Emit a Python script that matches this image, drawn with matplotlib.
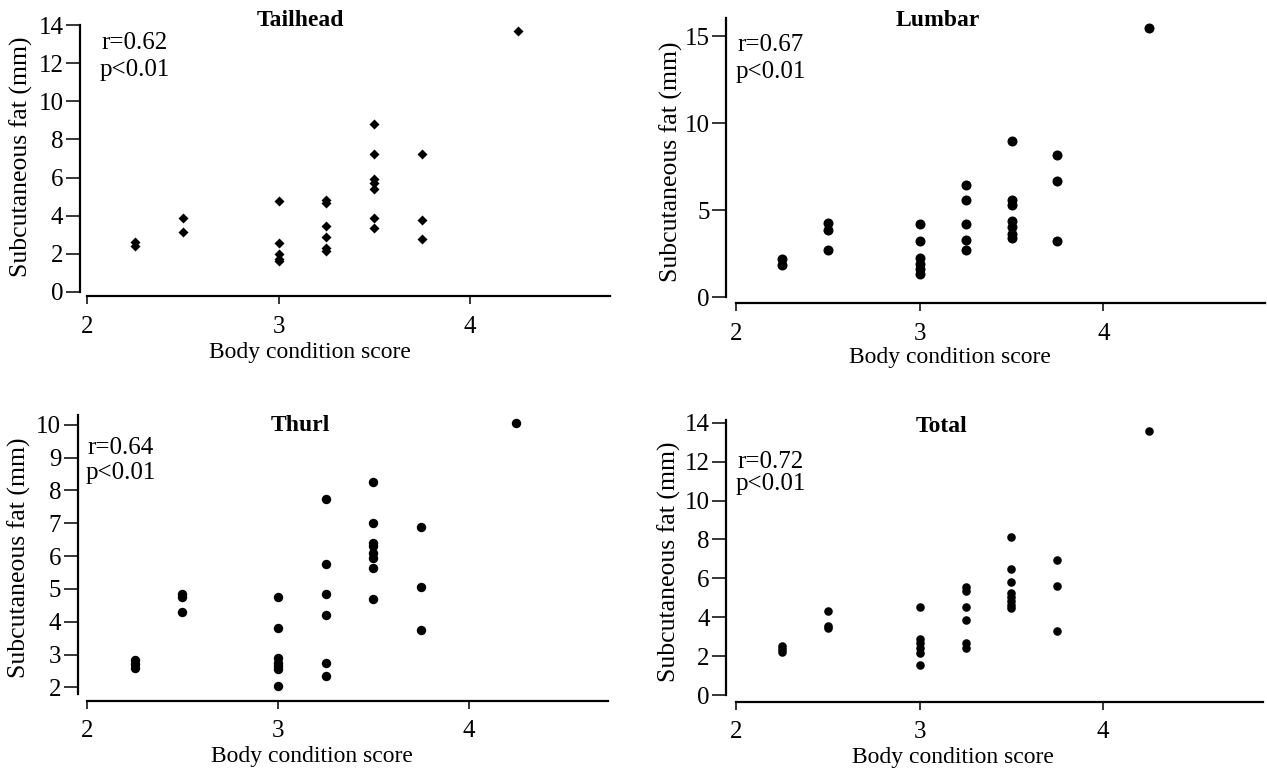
import matplotlib
matplotlib.use("Agg")
import matplotlib.pyplot as plt

plt.rcParams['font.family'] = ['Liberation Serif', 'DejaVu Serif']

W, H = 1267, 771

# body condition score groups and subcutaneous fat (mm)
tail_x = [2.25, 2.25, 2.5, 2.5, 3, 3, 3, 3, 3, 3.25, 3.25, 3.25, 3.25, 3.25, 3.25,
          3.5, 3.5, 3.5, 3.5, 3.5, 3.5, 3.5, 3.75, 3.75, 3.75, 4.25]
tail_y = [2.6, 2.4, 3.9, 3.15, 4.75, 2.55, 2.0, 1.75, 1.6, 4.85, 4.65, 3.45, 2.9, 2.3, 2.15,
          8.8, 7.25, 5.95, 5.7, 5.4, 3.9, 3.35, 7.25, 3.8, 2.8, 13.7]

lumb_x = [2.25, 2.25, 2.5, 2.5, 2.5, 3, 3, 3, 3, 3, 3, 3.25, 3.25, 3.25, 3.25, 3.25,
          3.5, 3.5, 3.5, 3.5, 3.5, 3.5, 3.5, 3.75, 3.75, 3.75, 4.25]
lumb_y = [2.2, 1.85, 4.25, 3.85, 2.7, 4.2, 3.2, 2.25, 1.9, 1.6, 1.35, 6.45, 5.6, 4.2, 3.3, 2.7,
          9.0, 5.6, 5.3, 4.4, 4.0, 3.65, 3.4, 8.15, 6.7, 3.2, 15.5]

thurl_x = [2.25, 2.25, 2.25, 2.5, 2.5, 2.5, 3, 3, 3, 3, 3, 3, 3, 3.25, 3.25, 3.25, 3.25, 3.25, 3.25,
           3.5, 3.5, 3.5, 3.5, 3.5, 3.5, 3.5, 3.5, 3.75, 3.75, 3.75, 4.25]
thurl_y = [2.85, 2.7, 2.6, 4.85, 4.75, 4.3, 4.75, 3.8, 2.9, 2.75, 2.65, 2.55, 2.05, 7.75, 5.75, 4.85, 4.2, 2.75, 2.35,
           8.25, 7.0, 6.4, 6.3, 6.1, 5.95, 5.65, 4.7, 6.9, 5.05, 3.75, 10.05]

total_x = [2.25, 2.25, 2.25, 2.5, 2.5, 2.5, 3, 3, 3, 3, 3, 3, 3.25, 3.25, 3.25, 3.25, 3.25, 3.25,
           3.5, 3.5, 3.5, 3.5, 3.5, 3.5, 3.5, 3.5, 3.75, 3.75, 3.75, 4.25]
total_y = [2.5, 2.35, 2.2, 4.3, 3.55, 3.45, 4.55, 2.9, 2.65, 2.4, 2.15, 1.55, 5.55, 5.35, 4.55, 3.85, 2.65, 2.4,
           8.1, 6.5, 5.8, 5.25, 5.05, 4.85, 4.65, 4.45, 6.95, 5.6, 3.3, 13.55]

titles = ['Tailhead', 'Lumbar', 'Thurl', 'Total']
r_text = ['r=0.62', 'r=0.67', 'r=0.64', 'r=0.72']
p_text = ['p<0.01', 'p<0.01', 'p<0.01', 'p<0.01']
yticks = [[0, 2, 4, 6, 8, 10, 12, 14], [0, 5, 10, 15],
          [2, 3, 4, 5, 6, 7, 8, 9, 10], [0, 2, 4, 6, 8, 10, 12, 14]]


def fx(x):
    return x / W


def fy(y):
    return 1 - y / H


fig = plt.figure(figsize=(W / 100, H / 100), dpi=100)

# pixel boxes: (x at bcs 2, right end, y of ylim top, y of ylim bottom)
panels = [
    dict(x=tail_x, y=tail_y, box=(87, 610, 25, 292), xlim=(2, 4.73), ylim=(0, 14),
         out=(5, 3), marker='D', s=26, ylab=(33, 157), xlab=(310, 342), title=(300, 20),
         stat=(100, 43, 70)),
    dict(x=lumb_x, y=lumb_y, box=(736, 1265, 18, 297), xlim=(2, 4.88), ylim=(0, 16.05),
         out=(7, 4.5), marker='o', s=52, ylab=(683, 162), xlab=(950, 347), title=(938, 20),
         stat=(736, 45, 72)),
    dict(x=thurl_x, y=thurl_y, box=(87, 608, 415, 694), xlim=(2, 4.73), ylim=(1.8, 10.3),
         out=(6.5, 5), marker='o', s=46, ylab=(31, 558), xlab=(312, 746), title=(300, 425),
         stat=(86, 448, 473)),
    dict(x=total_x, y=total_y, box=(736, 1263, 420, 695), xlim=(2, 4.87), ylim=(0, 14.14),
         out=(7, 5), marker='o', s=38, ylab=(681, 562), xlab=(953, 747), title=(942, 426),
         stat=(736, 462, 484)),
]

for i, p in enumerate(panels):
    x0, x1, ytop, ybot = p['box']
    ax = fig.add_axes([fx(x0), fy(ybot), (x1 - x0) / W, (ybot - ytop) / H])
    ax.scatter(p['x'], p['y'], marker=p['marker'], s=p['s'], color='black',
               linewidths=0, clip_on=False)
    ax.set_xlim(*p['xlim'])
    ax.set_ylim(*p['ylim'])
    ax.set_xticks([2, 3, 4])
    ax.set_yticks(yticks[i])
    ax.spines['top'].set_visible(False)
    ax.spines['right'].set_visible(False)
    ax.spines['left'].set_position(('outward', p['out'][0]))
    ax.spines['bottom'].set_position(('outward', p['out'][1]))
    for sp in ('left', 'bottom'):
        ax.spines[sp].set_linewidth(1.6)
    ax.tick_params(axis='y', length=10, width=1.1, pad=2, labelsize=18)
    ax.tick_params(axis='x', length=6, width=1.1, pad=8, labelsize=18)
    ax.set_facecolor('none')

    ax.set_ylabel('Subcutaneous fat (mm)', fontsize=18.5)
    ax.yaxis.set_label_coords(fx(p['ylab'][0]), fy(p['ylab'][1]), transform=fig.transFigure)
    ax.set_xlabel('Body condition score', fontsize=17)
    ax.xaxis.set_label_coords(fx(p['xlab'][0]), fy(p['xlab'][1]), transform=fig.transFigure)

    fig.text(fx(p['title'][0]), fy(p['title'][1]), titles[i], fontsize=17,
             fontweight='bold', ha='center', va='center')
    sx, ry, py = p['stat']
    fig.text(fx(sx + 1), fy(ry), r_text[i], fontsize=18, ha='left', va='center')
    fig.text(fx(sx), fy(py), p_text[i], fontsize=18, ha='left', va='center')

fig.savefig('out.png', dpi=100)
